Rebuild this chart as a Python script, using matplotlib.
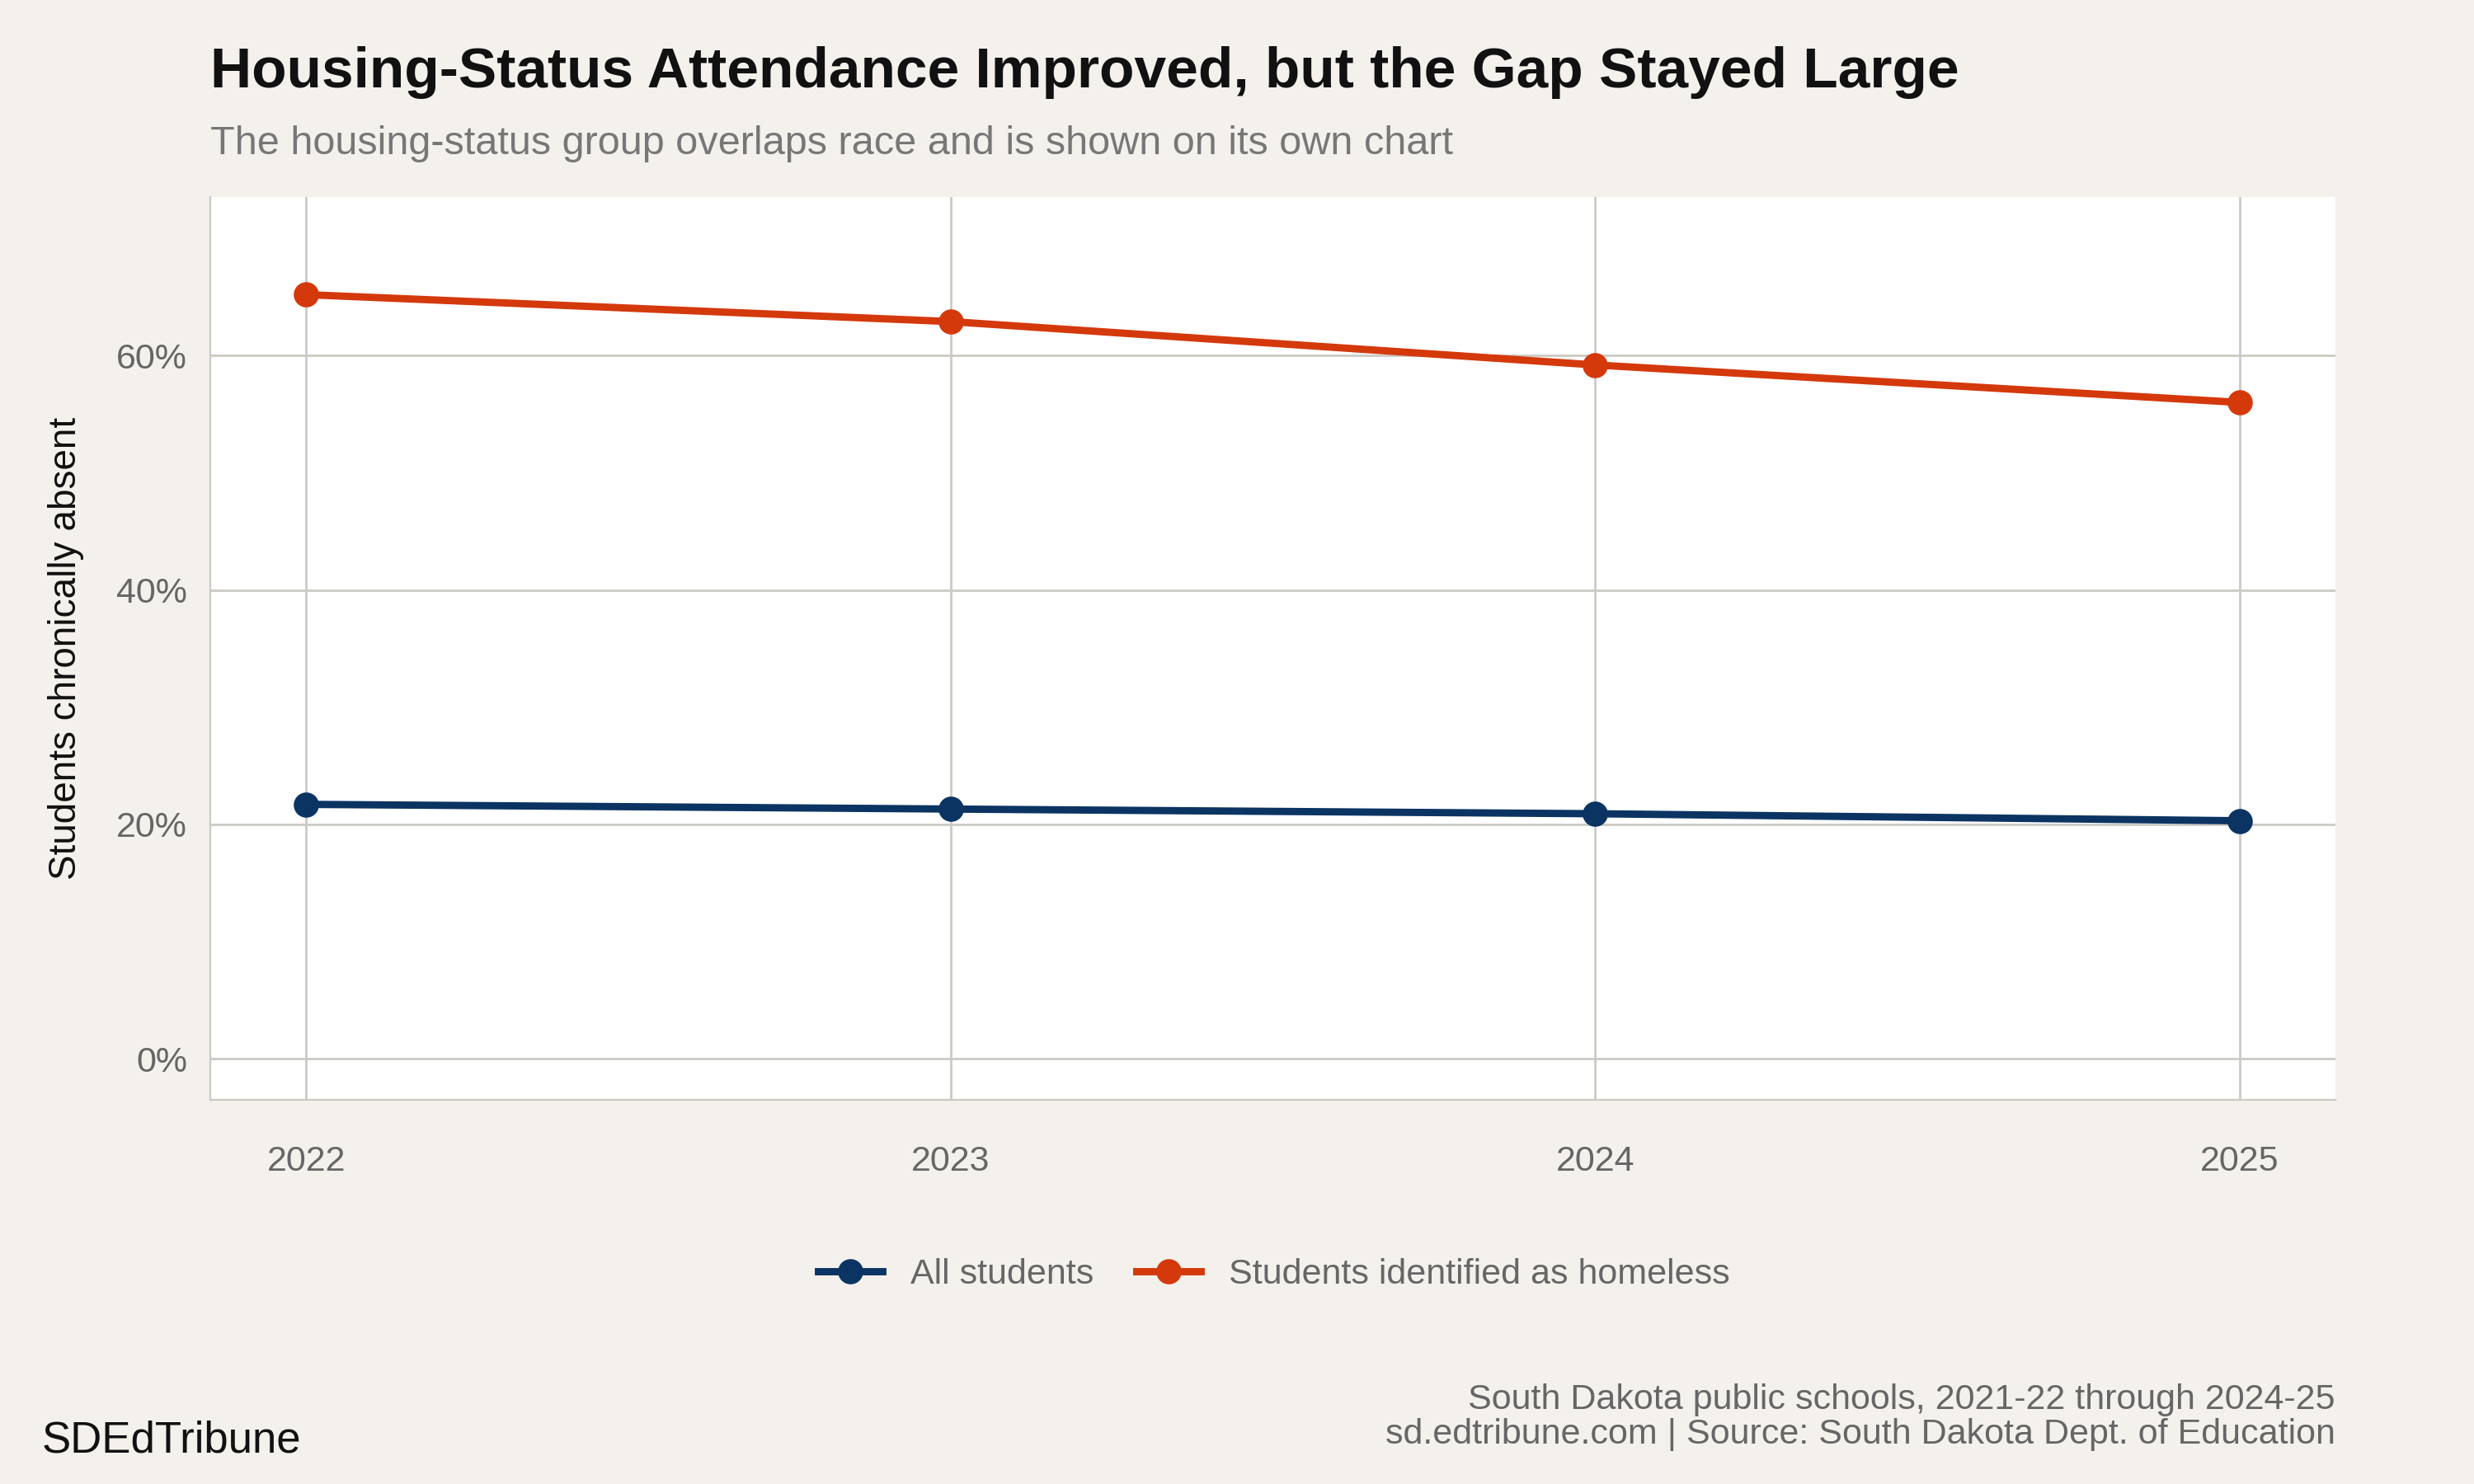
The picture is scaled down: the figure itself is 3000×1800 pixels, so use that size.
import matplotlib
matplotlib.use("Agg")
import matplotlib.pyplot as plt
from matplotlib.ticker import FuncFormatter

years = [2022, 2023, 2024, 2025]
all_students = [21.7, 21.3, 20.9, 20.3]
homeless = [65.2, 62.9, 59.2, 56.0]
yticks = [0, 20, 40, 60]

plt.rcParams['font.family'] = ['Liberation Sans', 'DejaVu Sans']
bg = '#F4F1EC'
fig = plt.figure(figsize=(15, 9), dpi=200, facecolor=bg)
ax = fig.add_axes([0.085, 0.259, 0.859, 0.608])
ax.set_facecolor('white')

ax.plot(years, all_students, color='#0B3463', lw=3.2, marker='o', ms=10, label='All students', zorder=3)
ax.plot(years, homeless, color='#D4390C', lw=3.2, marker='o', ms=10, label='Students identified as homeless', zorder=3)

ax.set_xlim(2022 - 0.149, 2025 + 0.149)
ax.set_ylim(-3.5, 73.5)
ax.set_xticks(years)
ax.set_yticks(yticks)
ax.yaxis.set_major_formatter(FuncFormatter(lambda v, p: f"{v:.0f}%"))
ax.grid(True, color='#CCCAC4', lw=1)
ax.set_axisbelow(True)
for s in ['top', 'right']:
    ax.spines[s].set_visible(False)
for s in ['left', 'bottom']:
    ax.spines[s].set_color('#CCCAC4')
ax.tick_params(length=0, labelsize=15.5, colors='#666666', pad=10)
ax.tick_params(axis='x', pad=20)
ax.set_ylabel('Students chronically absent', fontsize=16.5, color='#111111', labelpad=14)

fig.text(0.085, 0.951, 'Housing-Status Attendance Improved, but the Gap Stayed Large',
         fontsize=25, fontweight='bold', color='#111111', va='center')
fig.text(0.085, 0.903, 'The housing-status group overlaps race and is shown on its own chart',
         fontsize=17.5, color='#777777', va='center')

fig.legend(loc='center', bbox_to_anchor=(0.515, 0.141), ncol=2, frameon=False,
           fontsize=15.5, labelcolor='#666666', handlelength=1.8, columnspacing=1.2)

fig.text(0.944, 0.045, 'South Dakota public schools, 2021-22 through 2024-25\nsd.edtribune.com | Source: South Dakota Dept. of Education',
         fontsize=15.5, color='#666666', ha='right', va='center', linespacing=1.05)
fig.text(0.017, 0.029, 'SDEdTribune', fontsize=19, color='#111111', va='center')

fig.savefig('out.png', dpi=200, facecolor=bg)
